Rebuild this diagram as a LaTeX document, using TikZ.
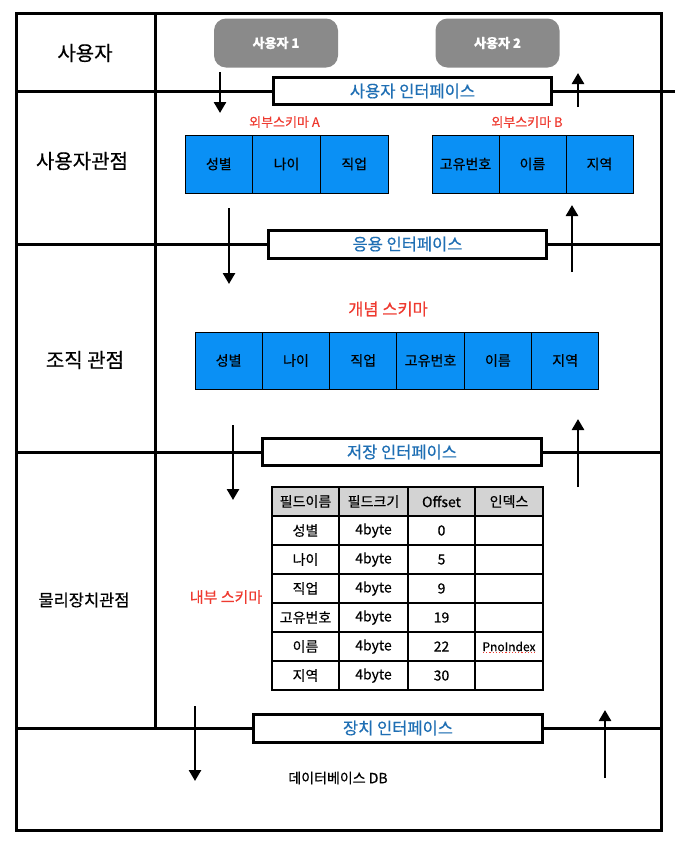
\documentclass[tikz,border=0pt]{standalone}
\usepackage{fontspec}
\setmainfont[FakeBold=0.5]{Noto Sans CJK KR}
\usetikzlibrary{arrows.meta,positioning}
\definecolor{schemablue}{HTML}{0A90F5}
\definecolor{ifaceblue}{HTML}{1F6FB4}
\definecolor{schemared}{HTML}{EE3A30}
\definecolor{usergray}{HTML}{8A8A8A}
\definecolor{headgray}{HTML}{D3D3D3}
\tikzset{
  rule/.style={line width=3pt},
  flow/.style={-{Triangle[width=12pt,length=11pt]},line width=2.6pt},
  iface/.style={draw,line width=3pt,fill=white,text=ifaceblue,inner sep=0pt,font=\fontsize{16.5}{19}\selectfont},
  userbox/.style={fill=usergray,rounded corners=12pt,text=white,font=\bfseries\fontsize{13}{15}\selectfont,minimum width=124pt,minimum height=49pt},
  viewlabel/.style={font=\fontsize{20}{24}\selectfont},
  schemalabel/.style={text=schemared,font=\fontsize{15}{18}\selectfont},
  fieldbox/.style={draw,line width=1pt,fill=schemablue,inner sep=0pt,anchor=west,font=\fontsize{14}{17}\selectfont},
  cell/.style={draw,line width=1.6pt,inner sep=0pt,minimum height=29pt,font=\fontsize{14}{17}\selectfont},
  headcell/.style={cell,fill=headgray}
}

\begin{document}
\begin{tikzpicture}[x=1pt,y=-1pt]
  \useasboundingbox (0,0) rectangle (675,847);
  % frame and column divider
  \coordinate (tl) at (16,13);
  \coordinate (br) at (661,830);
  \coordinate (rim) at (675,0);
  \coordinate (div) at (155,13);
  \draw[rule] (tl) rectangle (br);

  % interfaces
  \node[iface,minimum width=278pt,minimum height=27pt] (ui1) at (412.5,91) {사용자 인터페이스};
  \node[iface,minimum width=278pt,minimum height=28pt] (ui2) at (407.5,244) {응용 인터페이스};
  \node[iface,minimum width=279pt,minimum height=27pt] (ui3) at (402,452) {저장 인터페이스};
  \node[iface,minimum width=289pt,minimum height=28pt] (ui4) at (398,728) {장치 인터페이스};
  \draw[rule] (div) -- (div |- ui4.west);
  \draw[rule] (ui1.west) -- (ui1.west -| tl);
  \draw[rule] (ui1.east) -- (ui1.east -| rim);
  \foreach \u in {ui2,ui3,ui4} {
    \draw[rule] (\u.west) -- (\u.west -| tl);
    \draw[rule] (\u.east) -- (\u.east -| br);
  }

  % view labels
  \node[viewlabel] (vuser) at (85,53) {사용자};
  \node[viewlabel] (vext) at (82,161) {사용자관점};
  \node[viewlabel] (vorg) at (85,360) {조직 관점};
  \node[font=\fontsize{16.5}{19}\selectfont] (vphys) at (84,600) {물리장치관점};

  % users
  \node[userbox] (user1) at (276,43) {사용자 1};
  \node[userbox] (user2) at (497.5,43) {사용자 2};

  % external schemas
  \node[schemalabel,font=\fontsize{13}{15}\selectfont] (extA) at (284.5,122) {외부스키마 A};
  \node[schemalabel,font=\fontsize{13}{15}\selectfont] (extB) at (527,122) {외부스키마 B};
  \foreach \t [count=\i] in {성별,나이,직업}
    \node[fieldbox,minimum width=67.7pt,minimum height=58pt] (a\i) at ({184.5+67.7*(\i-1)},164) {\t};
  \foreach \t [count=\i] in {고유번호,이름,지역}
    \node[fieldbox,minimum width=67pt,minimum height=58pt] (b\i) at ({431.5+67*(\i-1)},164) {\t};

  % conceptual schema
  \node[schemalabel,font=\fontsize{16.5}{19}\selectfont] (concept) at (388,309) {개념 스키마};
  \foreach \t [count=\i] in {성별,나이,직업,고유번호,이름,지역}
    \node[fieldbox,minimum width=67.3pt,minimum height=57pt] (c\i) at ({194.5+67.3*(\i-1)},360.5) {\t};

  % internal schema
  \node[schemalabel] (inner) at (226,597) {내부 스키마};
  \foreach \x/\w/\t [count=\j] in {305.5/67/필드이름,373.5/69/필드크기,441.5/67/Offset,509/68/인덱스}
    \node[headcell,minimum width=\w pt] (h\j) at (\x,501.5) {\t};
  \foreach \a/\b/\c/\d [count=\r] in {성별/4byte/0/{},나이/4byte/5/{},직업/4byte/9/{},고유번호/4byte/19/{},이름/4byte/22/{\fontsize{12}{14}\selectfont PnoIndex},지역/4byte/30/{}} {
    \node[cell,minimum width=67pt] (n\r) at (305.5,{501.5+29*\r}) {\a};
    \node[cell,minimum width=69pt] (s\r) at (373.5,{501.5+29*\r}) {\b};
    \node[cell,minimum width=67pt] (o\r) at (441.5,{501.5+29*\r}) {\c};
    \node[cell,minimum width=68pt] (i\r) at (509,{501.5+29*\r}) {\d};
  }
  \draw[schemared,dotted,line width=1.2pt] ([xshift=-26pt,yshift=-6pt]i5.center) -- ([xshift=26pt,yshift=-6pt]i5.center);

  \node[font=\fontsize{14}{17}\selectfont] (db) at (338,778) {데이터베이스 DB};

  % mapping arrows
  \foreach \n/\x/\ya/\yb in {d1/220/72/113,u1/578/107/73,d2/229/208/284,u2/572/272/205,d3/233/425/500,u3/578/487/419,d4/195/706/781,u4/605/778/710} {
    \coordinate (\n-s) at (\x,\ya);
    \coordinate (\n-e) at (\x,\yb);
    \draw[flow] (\n-s) -- (\n-e);
  }
\end{tikzpicture}
\end{document}
